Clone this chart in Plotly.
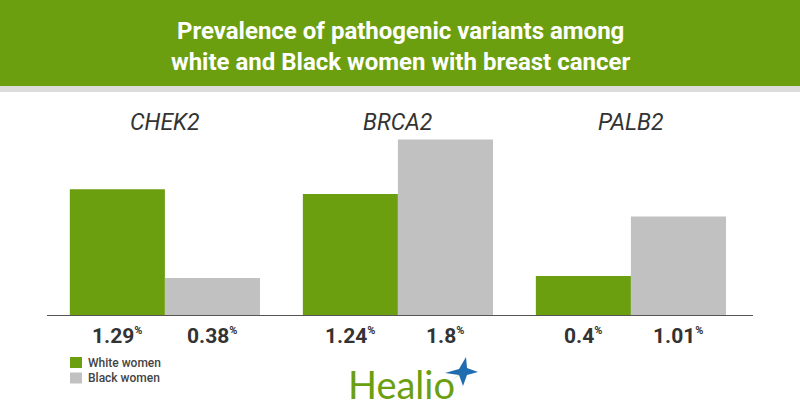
import plotly.graph_objects as go

genes = ["CHEK2", "BRCA2", "PALB2"]
white_vals = [1.29, 1.24, 0.4]
black_vals = [0.38, 1.8, 1.01]
series_names = ["White women", "Black women"]
title_lines = ["Prevalence of pathogenic variants among", "white and Black women with breast cancer"]

GREEN = "#6b9f10"
GRAY = "#c1c1c1"
W, H = 800, 420

def px(x):
    return x / W

def py(y):
    return 1 - y / H

idx = list(range(len(genes)))
half = 0.204
bw = 0.408
colors = [GREEN, GRAY]

fig = go.Figure()
fig.add_trace(go.Bar(x=[i - half for i in idx], y=white_vals, width=bw,
                     marker=dict(color=GREEN, line=dict(width=0)), name=series_names[0],
                     hoverinfo="y", showlegend=False))
fig.add_trace(go.Bar(x=[i + half for i in idx], y=black_vals, width=bw,
                     marker=dict(color=GRAY, line=dict(width=0)), name=series_names[1],
                     hoverinfo="y", showlegend=False))

annotations = []
# gene labels
for i, g in zip(idx, genes):
    annotations.append(dict(x=i, xref="x", y=py(122), yref="paper", text=g, showarrow=False,
                            font=dict(family="Roboto", size=23, color="#333333", style="italic"),
                            xanchor="center", yanchor="middle"))
# value labels
for vals, sign in ((white_vals, -1), (black_vals, 1)):
    for i, v in zip(idx, vals):
        annotations.append(dict(x=i + sign * half, xref="x", y=0, yref="y", yshift=-21,
                                text=f"<b>{v}</b><sup><span style='font-size:11px'><b>%</b></span></sup>",
                                showarrow=False, xanchor="center", yanchor="middle",
                                font=dict(family="Roboto", size=21, color="#333333")))
# title
annotations.append(dict(x=0.5, xref="paper", y=py(46), yref="paper",
                        text="<br>".join(title_lines), showarrow=False,
                        xanchor="center", yanchor="middle",
                        font=dict(family="Roboto", size=24, color="white", weight="bold")))
# legend (manual)
shapes = [
    dict(type="rect", xref="paper", yref="paper", x0=0, x1=1, y0=py(86), y1=1,
         fillcolor="#6c9f10", line=dict(width=0), layer="below"),
    dict(type="rect", xref="paper", yref="paper", x0=0, x1=1, y0=py(92), y1=py(86),
         fillcolor="#dcdcdc", line=dict(width=0), layer="below"),
]
for k, (name, col) in enumerate(zip(series_names, colors)):
    yc = 362.5 + 15.5 * k
    shapes.append(dict(type="rect", xref="paper", yref="paper",
                       x0=px(70), x1=px(82), y0=py(yc + 5.5), y1=py(yc - 5.5),
                       fillcolor=col, line=dict(width=0)))
    annotations.append(dict(x=px(86), xref="paper", y=py(yc), yref="paper", text=name,
                            showarrow=False, xanchor="left", yanchor="middle",
                            font=dict(family="Roboto", size=12, color="#444444", weight=500)))
# logo
annotations.append(dict(x=px(346), xref="paper", y=py(384), yref="paper", text="Healio",
                        showarrow=False, xanchor="left", yanchor="middle",
                        font=dict(family="Lato", size=38, color=GREEN)))
cx, cy = 462, 371
pts = [(cx + 4, cy - 14), (cx + 5, cy - 3), (cx + 16, cy + 1), (cx + 5, cy + 4),
       (cx + 1, cy + 15), (cx - 3, cy + 4), (cx - 17, cy + 2), (cx - 3, cy - 2)]
path = "M " + " L ".join(f"{px(x):.5f},{py(y):.5f}" for x, y in pts) + " Z"
shapes.append(dict(type="path", xref="paper", yref="paper", path=path,
                   fillcolor="#1f6db0", line=dict(width=0)))
pts2 = [(cx - 3, cy + 4), (cx - 11, cy + 10), (cx - 1, cy + 2)]
path2 = "M " + " L ".join(f"{px(x):.5f},{py(y):.5f}" for x, y in pts2) + " Z"
shapes.append(dict(type="path", xref="paper", yref="paper", path=path2,
                   fillcolor=GREEN, line=dict(width=0)))

fig.update_layout(
    width=W, height=H,
    margin=dict(l=0, r=0, t=0, b=0),
    paper_bgcolor="white", plot_bgcolor="white",
    barmode="overlay",
    xaxis=dict(domain=[px(47), px(753)], range=[-0.506, 2.524], showline=True,
               linecolor="#555555", linewidth=1.2, showticklabels=False, ticks="",
               showgrid=False, zeroline=False, fixedrange=True),
    yaxis=dict(domain=[py(315), py(100)], range=[0, 215 / 97.5], visible=False,
               showgrid=False, zeroline=False, fixedrange=True),
    showlegend=False,
    annotations=annotations,
    shapes=shapes,
)

fig.write_html("out.html")
